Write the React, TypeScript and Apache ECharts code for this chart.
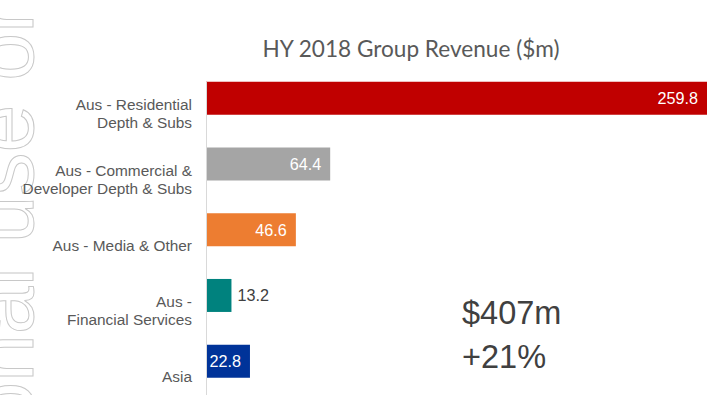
import React, { useEffect, useRef } from "react";
import * as echarts from "echarts";

const categories = [
  "Aus - Residential\nDepth & Subs",
  "Aus - Commercial &\nDeveloper Depth & Subs",
  "Aus - Media & Other",
  "Aus -\nFinancial Services",
  "Asia",
];
const values = [259.8, 64.4, 46.6, 13.2, 22.8];
const barColors = ["#C00000", "#A5A5A5", "#ED7D31", "#00827E", "#003399"];
const labelInside = [true, true, true, false, true];
const titleText = "HY 2018 Group Revenue ($m)";
const totalText = "$407m";
const growthText = "+21%";
const watermarkText = "For personal use only";

export default function App() {
  const ref = useRef<HTMLDivElement>(null);
  useEffect(() => {
    if (!ref.current) return;
    const chart = echarts.init(ref.current, null, { renderer: "svg" });
    const data = values.map((v, i) => ({
      value: v,
      itemStyle: { color: barColors[i] },
      label: labelInside[i]
        ? { position: "insideRight", distance: 9, color: "#FFFFFF" }
        : { position: "right", distance: 6, color: "#404040" },
    }));
    chart.setOption({
      animation: false,
      backgroundColor: "#FFFFFF",
      grid: { left: 206, right: 5, top: 65.5, bottom: 1, containLabel: false },
      xAxis: {
        type: "value",
        min: 0,
        max: 259.8,
        show: false,
      },
      yAxis: {
        type: "category",
        data: categories,
        inverse: true,
        axisLine: { show: false },
        axisTick: { show: false },
        splitLine: { show: false },
        axisLabel: {
          interval: 0,
          margin: 14,
          color: "#595959",
          fontFamily: "Liberation Sans, Arial, sans-serif",
          fontSize: 15.4,
          lineHeight: 18,
          align: "right",
          formatter: (v: string) => "{gap| }\n" + v,
          rich: {
            gap: { lineHeight: 31, fontSize: 2 },
          },
        },
      },
      series: [
        {
          type: "bar",
          data,
          barWidth: 33,
          label: {
            show: true,
            fontFamily: "Liberation Sans, Arial, sans-serif",
            fontSize: 16.2,
            formatter: (p: any) => p.value.toFixed(1),
          },
        },
      ],
      graphic: [
        {
          type: "line",
          shape: { x1: 206.5, y1: 82, x2: 206.5, y2: 395 },
          style: { stroke: "#D9D9D9", lineWidth: 1 },
          z: 10,
        },
        {
          type: "text",
          x: 411,
          y: 48,
          style: {
            text: titleText,
            fill: "#595959",
            fontFamily: "Lato, Open Sans, sans-serif",
            fontSize: 22.6,
            align: "center",
            verticalAlign: "middle",
          },
        },
        {
          type: "text",
          x: 462,
          y: 313,
          style: {
            text: totalText,
            fill: "#404040",
            fontFamily: "Liberation Sans, Arial, sans-serif",
            fontSize: 32.5,
            align: "left",
            verticalAlign: "middle",
          },
        },
        {
          type: "text",
          x: 462,
          y: 357,
          style: {
            text: growthText,
            fill: "#404040",
            fontFamily: "Liberation Sans, Arial, sans-serif",
            fontSize: 32.5,
            align: "left",
            verticalAlign: "middle",
          },
        },
        {
          type: "text",
          x: 46,
          y: 750,
          rotation: Math.PI / 2,
          style: {
            text: watermarkText,
            fill: "none",
            stroke: "#C8C8C8",
            lineWidth: 1,
            fontFamily: "Liberation Sans, Arial, sans-serif",
            fontSize: 86,
            align: "left",
            verticalAlign: "bottom",
          },
        },
      ],
    });
    return () => chart.dispose();
  }, []);
  return (
    <div
      ref={ref}
      style={{ position: "absolute", left: 0, top: 0, width: 712, height: 395 }}
    />
  );
}
